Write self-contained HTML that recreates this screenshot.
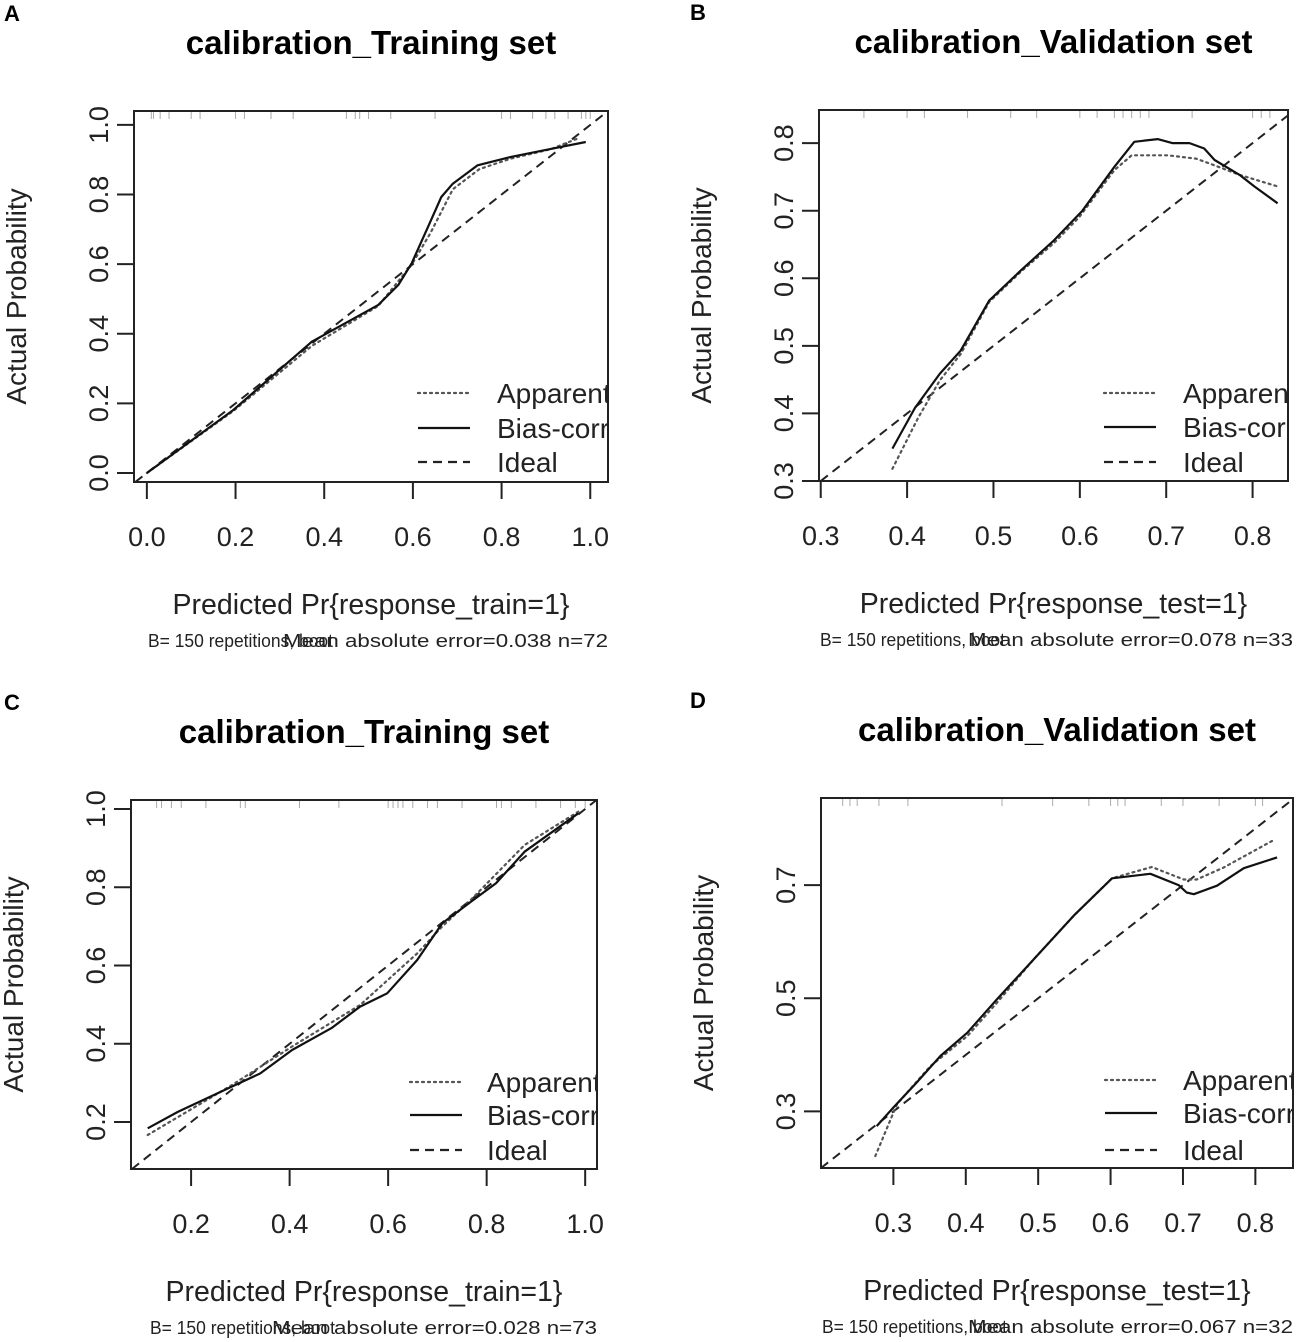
<!DOCTYPE html>
<html><head><meta charset="utf-8">
<style>
html,body{margin:0;padding:0;background:#fff;}
svg{display:block;font-family:"Liberation Sans",Arial,sans-serif;}
</style></head>
<body>
<svg id="fig" width="1299" height="1342" viewBox="0 0 1299 1342" xmlns="http://www.w3.org/2000/svg"></svg>
<script>
// ---- Panel A data ----
const aBiasX = [0,0.195,0.372,0.522,0.567,0.597,0.634,0.664,0.690,0.746,0.821,0.911,0.990];
const aBiasY = [0,0.181,0.377,0.483,0.540,0.602,0.707,0.793,0.831,0.884,0.908,0.931,0.951];
const aAppX = [0,0.195,0.372,0.522,0.597,0.640,0.690,0.750,0.820,0.910,0.970];
const aAppY = [0,0.178,0.365,0.480,0.598,0.690,0.815,0.873,0.903,0.930,0.960];
const aRug = [0.01,0.015,0.03,0.05,0.1,0.12,0.2,0.22,0.28,0.33,0.45,0.47,0.48,0.5,0.55,0.65,0.8,0.82,0.87,0.9,0.92,0.95,0.98,0.99,1.0];
const aXTicks = ["0.0","0.2","0.4","0.6","0.8","1.0"];
const aYTicks = ["0.0","0.2","0.4","0.6","0.8","1.0"];
// ---- Panel B data ----
const bBiasX = [0.383,0.409,0.438,0.462,0.495,0.532,0.570,0.603,0.640,0.663,0.690,0.707,0.727,0.744,0.756,0.785,0.802,0.829];
const bBiasY = [0.348,0.408,0.459,0.493,0.567,0.612,0.656,0.700,0.765,0.802,0.806,0.800,0.800,0.792,0.775,0.753,0.736,0.711];
const bAppX = [0.383,0.413,0.438,0.462,0.495,0.532,0.570,0.599,0.640,0.660,0.702,0.735,0.756,0.785,0.829];
const bAppY = [0.318,0.394,0.449,0.488,0.565,0.610,0.652,0.690,0.760,0.782,0.782,0.777,0.767,0.753,0.736];
const bRug = [0.35,0.4,0.42,0.47,0.52,0.55,0.6,0.62,0.64,0.65,0.66,0.67,0.68,0.73,0.8,0.81,0.82];
const bXTicks = ["0.3","0.4","0.5","0.6","0.7","0.8"];
const bYTicks = ["0.3","0.4","0.5","0.6","0.7","0.8"];
// ---- Panel C data ----
const cBiasX = [0.112,0.173,0.282,0.340,0.405,0.485,0.543,0.598,0.659,0.710,0.768,0.819,0.877,0.986];
const cBiasY = [0.184,0.226,0.290,0.324,0.384,0.440,0.495,0.529,0.614,0.708,0.763,0.810,0.891,0.989];
const cAppX = [0.112,0.282,0.405,0.543,0.659,0.710,0.768,0.877,0.986];
const cAppY = [0.167,0.294,0.393,0.499,0.631,0.700,0.768,0.908,0.993];
const cRug = [0.13,0.14,0.16,0.18,0.23,0.3,0.31,0.42,0.5,0.6,0.61,0.62,0.63,0.65,0.68,0.7,0.75,0.82,0.83,0.85,0.9,0.95,0.98,1.0];
const cXTicks = ["0.2","0.4","0.6","0.8","1.0"];
const cYTicks = ["0.2","0.4","0.6","0.8","1.0"];
// ---- Panel D data ----
const dBiasX = [0.277,0.300,0.332,0.365,0.402,0.443,0.494,0.549,0.602,0.655,0.694,0.705,0.715,0.747,0.784,0.830];
const dBiasY = [0.274,0.307,0.351,0.398,0.439,0.498,0.569,0.646,0.712,0.720,0.700,0.687,0.684,0.699,0.730,0.749];
const dAppX = [0.275,0.305,0.351,0.402,0.443,0.494,0.549,0.602,0.657,0.701,0.719,0.756,0.823];
const dAppY = [0.221,0.313,0.380,0.433,0.492,0.569,0.646,0.712,0.732,0.710,0.710,0.731,0.778];
const dRug = [0.23,0.24,0.25,0.28,0.32,0.45,0.52,0.57,0.6,0.61,0.62,0.67,0.7,0.75,0.8,0.81];
const dXTicks = ["0.3","0.4","0.5","0.6","0.7","0.8"];
const dYTicks = ["0.3","0.5","0.7"];

const NS = "http://www.w3.org/2000/svg";
const svg = document.getElementById("fig");
function mk(tag, attrs, parent, text){
  const e = document.createElementNS(NS, tag);
  for (const k in attrs) e.setAttribute(k, attrs[k]);
  if (text !== undefined) e.textContent = text;
  (parent || svg).appendChild(e);
  return e;
}

function panel(cfg){
  const g = mk("g", {});
  
  
  const L=cfg.box[0], T=cfg.box[1], R=cfg.box[2], B=cfg.box[3];
  const sx = v => L + (v - cfg.xr[0]) / (cfg.xr[1]-cfg.xr[0]) * (R-L);
  const sy = v => B - (v - cfg.yr[0]) / (cfg.yr[1]-cfg.yr[0]) * (B-T);
  const clipId = "clip" + cfg.id;
  const cp = mk("clipPath", {id: clipId}, g);
  mk("rect", {x:L, y:T, width:R-L, height:B-T}, cp);

  const lab = mk("text", {x:cfg.labelX, y:cfg.box[1]-90, "font-size":22, "font-weight":"bold", fill:"#000"}, g, cfg.id);
  
  

  const title = mk("text", {x:(L+R)/2, y:T-57, "font-size":33, "font-weight":"bold", "text-anchor":"middle"}, g, cfg.title);
  
  

  cfg.rug.forEach(v => {
    const r = mk("line", {x1:sx(v), x2:sx(v), y1:T, y2:T+8, stroke:"#aaa", "stroke-width":1}, g);
    
    
  });

  const lo = Math.max(cfg.xr[0], cfg.yr[0]), hi = Math.min(cfg.xr[1], cfg.yr[1]);
  const ideal = mk("line", {x1:sx(lo), y1:sy(lo), x2:sx(hi), y2:sy(hi), stroke:"#222", "stroke-width":2, "stroke-dasharray":"9,6", "clip-path":"url(#"+clipId+")"}, g);
  
  

  const pts = (xs, ys) => xs.map((x,i)=> sx(x).toFixed(1)+","+sy(ys[i]).toFixed(1)).join(" ");
  const app = mk("polyline", {points:pts(cfg.appX,cfg.appY), fill:"none", stroke:"#555", "stroke-width":2.2, "stroke-dasharray":"2,4", "stroke-linecap":"round"}, g);
  
  
  const bias = mk("polyline", {points:pts(cfg.biasX,cfg.biasY), fill:"none", stroke:"#111", "stroke-width":2.2, "stroke-linejoin":"round"}, g);
  
  

  const box = mk("rect", {x:L, y:T, width:R-L, height:B-T, fill:"none", stroke:"#222", "stroke-width":2}, g);
  
  

  cfg.xTicks.forEach(t => {
    const v = parseFloat(t), x = sx(v);
    const tk = mk("line", {x1:x, x2:x, y1:B, y2:B+17, stroke:"#222", "stroke-width":2}, g);
    
    
    const tl = mk("text", {x:x, y:B+64, "font-size":27, "text-anchor":"middle", fill:"#222"}, g, t);
    
    
  });
  cfg.yTicks.forEach(t => {
    const v = parseFloat(t), y = sy(v);
    const tk = mk("line", {x1:L-17, x2:L, y1:y, y2:y, stroke:"#222", "stroke-width":2}, g);
    
    
    const tx = L-26;
    const tl = mk("text", {x:tx, y:y, "font-size":27, "text-anchor":"middle", fill:"#222", transform:"rotate(-90 "+tx+" "+y+")"}, g, t);
    
    
  });
  const yx = L - 108, yy = (T+B)/2;
  const yt = mk("text", {x:yx, y:yy, "font-size":28, "text-anchor":"middle", fill:"#222", transform:"rotate(-90 "+yx+" "+yy+")"}, g, "Actual Probability");
  
  
  const xt = mk("text", {x:(L+R)/2, y:B+132, "font-size":28.5, "text-anchor":"middle", fill:"#222"}, g, cfg.xTitle);
  
  
  const s1 = mk("text", {x:cfg.subStart, y:B+165, "font-size":18, fill:"#222", textLength:185, lengthAdjust:"spacingAndGlyphs"}, g, "B= 150 repetitions, boot");
  
  
  const s2 = mk("text", {x:cfg.subEnd-325, y:B+165, "font-size":18, fill:"#222", textLength:325, lengthAdjust:"spacingAndGlyphs"}, g, cfg.sub);
  
  

  const lg = mk("g", {"clip-path":"url(#"+clipId+")"}, g);
  
  
  const items = [["Apparent","2,4","#555"],["Bias-corrected","","#111"],["Ideal","9,6","#222"]];
  items.forEach((it,i) => {
    const y = cfg.leg[2][i];
    const ln = mk("line", {x1:cfg.leg[0], x2:cfg.leg[0]+52, y1:y, y2:y, stroke:it[2], "stroke-width":2.2, "stroke-dasharray":it[1], "stroke-linecap": it[1]==="2,4"?"round":"butt"}, lg);
    
    
    const tx = mk("text", {x:cfg.leg[1], y:y+10, "font-size":28, fill:"#222"}, lg, it[0]);
    
    
  });
}

panel({id:"A", labelX:4, title:"calibration_Training set", box:[134,111,608,482], xr:[-0.029,1.04], yr:[-0.026,1.040],
  biasX:aBiasX, biasY:aBiasY, appX:aAppX, appY:aAppY, rug:aRug, xTicks:aXTicks, yTicks:aYTicks,
  xTitle:"Predicted Pr{response_train=1}", sub:"Mean absolute error=0.038 n=72", subEnd:608, subStart:148,
  leg:[418,497,[393,428,462]]});
panel({id:"B", labelX:690, title:"calibration_Validation set", box:[819,110,1288,481], xr:[0.298,0.841], yr:[0.3,0.849],
  biasX:bBiasX, biasY:bBiasY, appX:bAppX, appY:bAppY, rug:bRug, xTicks:bXTicks, yTicks:bYTicks,
  xTitle:"Predicted Pr{response_test=1}", sub:"Mean absolute error=0.078 n=33", subEnd:1293, subStart:820,
  leg:[1104,1183,[393,427,462]]});
panel({id:"C", labelX:4, title:"calibration_Training set", box:[131,800,597,1169], xr:[0.078,1.024], yr:[0.08,1.023],
  biasX:cBiasX, biasY:cBiasY, appX:cAppX, appY:cAppY, rug:cRug, xTicks:cXTicks, yTicks:cYTicks,
  xTitle:"Predicted Pr{response_train=1}", sub:"Mean absolute error=0.028 n=73", subEnd:597, subStart:150,
  leg:[410,487,[1082,1115,1150]]});
panel({id:"D", labelX:690, title:"calibration_Validation set", box:[821,798,1293,1168], xr:[0.2,0.852], yr:[0.2,0.854],
  biasX:dBiasX, biasY:dBiasY, appX:dAppX, appY:dAppY, rug:dRug, xTicks:dXTicks, yTicks:dYTicks,
  xTitle:"Predicted Pr{response_test=1}", sub:"Mean absolute error=0.067 n=32", subEnd:1293, subStart:822,
  leg:[1105,1183,[1080,1113,1150]]});
</script>
</body></html>
